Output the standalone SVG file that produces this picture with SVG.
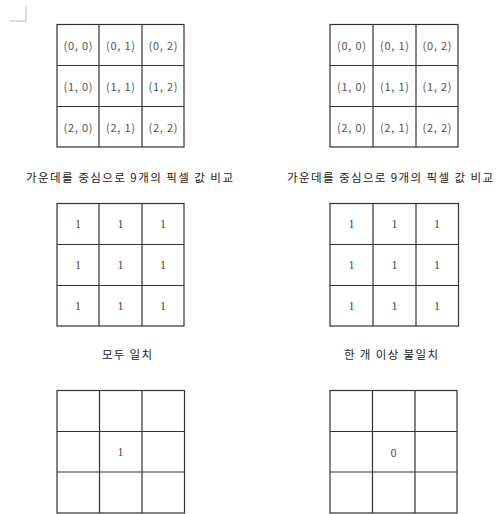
<svg xmlns="http://www.w3.org/2000/svg" width="499" height="514" viewBox="0 0 499 514">
<style>
.g{fill:#fff;stroke:#333;stroke-width:1.2}
.l{stroke:#333;stroke-width:1.2;fill:none}
.c{font-family:"Noto Sans CJK KR","DejaVu Sans",sans-serif;font-size:11px;fill:#555;text-anchor:middle;dominant-baseline:central}
.n{font-family:"Liberation Serif",serif;font-size:12px;fill:#444;text-anchor:middle;dominant-baseline:central}
.cap{font-family:"Noto Sans CJK KR",sans-serif;font-size:11.5px;fill:#222;text-anchor:middle;dominant-baseline:central}
</style>
<rect width="499" height="514" fill="#fff"/>
<path d="M26 6V21H10" fill="none" stroke="#bbb" stroke-width="1"/>

<g id="grid-index-left">
<rect class="g" x="57" y="24.5" width="127" height="122.5"/>
<path class="l" d="M99 24.5V147M142 24.5V147M57 65.5H184M57 106.5H184"/>
<text class="c" x="78" y="45" textLength="29" lengthAdjust="spacing">(0, 0)</text><text class="c" x="120.5" y="45" textLength="29" lengthAdjust="spacing">(0, 1)</text><text class="c" x="163" y="45" textLength="29" lengthAdjust="spacing">(0, 2)</text>
<text class="c" x="78" y="86" textLength="29" lengthAdjust="spacing">(1, 0)</text><text class="c" x="120.5" y="86" textLength="29" lengthAdjust="spacing">(1, 1)</text><text class="c" x="163" y="86" textLength="29" lengthAdjust="spacing">(1, 2)</text>
<text class="c" x="78" y="127" textLength="29" lengthAdjust="spacing">(2, 0)</text><text class="c" x="120.5" y="127" textLength="29" lengthAdjust="spacing">(2, 1)</text><text class="c" x="163" y="127" textLength="29" lengthAdjust="spacing">(2, 2)</text>
</g>

<g id="grid-index-right">
<rect class="g" x="330" y="24.5" width="128" height="122.5"/>
<path class="l" d="M373 24.5V147M416 24.5V147M330 65.5H458M330 106.5H458"/>
<text class="c" x="351.5" y="45" textLength="29" lengthAdjust="spacing">(0, 0)</text><text class="c" x="394.5" y="45" textLength="29" lengthAdjust="spacing">(0, 1)</text><text class="c" x="437" y="45" textLength="29" lengthAdjust="spacing">(0, 2)</text>
<text class="c" x="351.5" y="86" textLength="29" lengthAdjust="spacing">(1, 0)</text><text class="c" x="394.5" y="86" textLength="29" lengthAdjust="spacing">(1, 1)</text><text class="c" x="437" y="86" textLength="29" lengthAdjust="spacing">(1, 2)</text>
<text class="c" x="351.5" y="127" textLength="29" lengthAdjust="spacing">(2, 0)</text><text class="c" x="394.5" y="127" textLength="29" lengthAdjust="spacing">(2, 1)</text><text class="c" x="437" y="127" textLength="29" lengthAdjust="spacing">(2, 2)</text>
</g>

<g id="caption-compare-left"><text class="cap" x="129.5" y="177" textLength="207" lengthAdjust="spacing">가운데를 중심으로 9개의 픽셀 값 비교</text></g>
<g id="caption-compare-right"><text class="cap" x="390" y="177" textLength="206" lengthAdjust="spacing">가운데를 중심으로 9개의 픽셀 값 비교</text></g>

<g id="grid-ones-left">
<rect class="g" x="57" y="203.5" width="127" height="122.5"/>
<path class="l" d="M99 203.5V326M142 203.5V326M57 244.5H184M57 285.5H184"/>
<text class="n" x="78" y="224">1</text><text class="n" x="120.5" y="224">1</text><text class="n" x="163" y="224">1</text>
<text class="n" x="78" y="265">1</text><text class="n" x="120.5" y="265">1</text><text class="n" x="163" y="265">1</text>
<text class="n" x="78" y="306">1</text><text class="n" x="120.5" y="306">1</text><text class="n" x="163" y="306">1</text>
</g>

<g id="grid-ones-right">
<rect class="g" x="330" y="203.5" width="128.5" height="122.5"/>
<path class="l" d="M373 203.5V326M416 203.5V326M330 244.5H458.5M330 285.5H458.5"/>
<text class="n" x="351.5" y="224">1</text><text class="n" x="394.5" y="224">1</text><text class="n" x="437" y="224">1</text>
<text class="n" x="351.5" y="265">1</text><text class="n" x="394.5" y="265">1</text><text class="n" x="437" y="265">1</text>
<text class="n" x="351.5" y="306">1</text><text class="n" x="394.5" y="306">1</text><text class="n" x="437" y="306">1</text>
</g>

<g id="caption-match"><text class="cap" x="127" y="354" textLength="50" lengthAdjust="spacing">모두 일치</text></g>
<g id="caption-mismatch"><text class="cap" x="391" y="354" textLength="94" lengthAdjust="spacing">한 개 이상 불일치</text></g>

<g id="grid-result-left">
<rect class="g" x="57" y="390.5" width="127.5" height="122.5"/>
<path class="l" d="M99.5 390.5V513M142 390.5V513M57 431.5H184.5M57 472H184.5"/>
<text class="n" x="120.5" y="452">1</text>
</g>

<g id="grid-result-right">
<rect class="g" x="330" y="390.5" width="127" height="122.5"/>
<path class="l" d="M372.5 390.5V513M415 390.5V513M330 431.5H457M330 472H457"/>
<text class="c" x="393.5" y="452">0</text>
</g>
</svg>
